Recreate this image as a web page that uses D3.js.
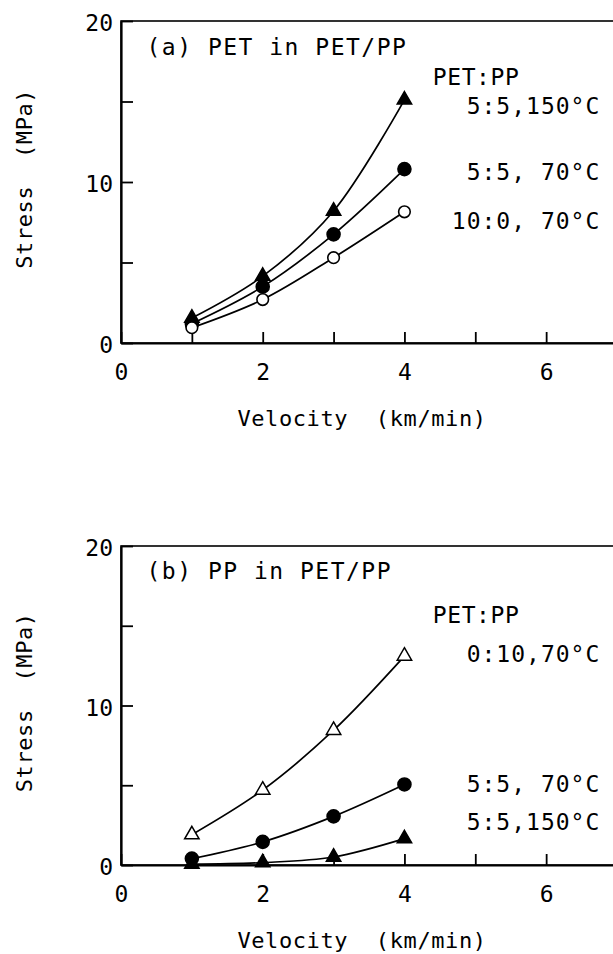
<!DOCTYPE html>
<html>
<head>
<meta charset="utf-8">
<script src="https://cdn.jsdelivr.net/npm/d3@7"></script>
<style>
  body { margin: 0; background: #fff; }
  svg text { font-family: "DejaVu Sans Mono", "Liberation Mono", monospace; fill: #000; white-space: pre; }
</style>
</head>
<body>
<svg width="613" height="954"></svg>
<script>
// data
var velocity = [1, 2, 3, 4];

// (a) PET in PET/PP
var petStress150 = [1.55, 4.15, 8.2, 15.1];
var petStress70 = [1.2, 3.5, 6.75, 10.8];
var petStressNeat = [0.95, 2.7, 5.3, 8.15];

// (b) PP in PET/PP
var ppStressNeat = [1.9, 4.7, 8.45, 13.1];
var ppStress70 = [0.4, 1.45, 3.05, 5.05];
var ppStress150 = [0.05, 0.15, 0.5, 1.65];

var xTicks = [0, 1, 2, 3, 4, 5, 6];
var xTickLabels = [0, 2, 4, 6];
var yTicks = [0, 5, 10, 15, 20];
var yTickLabels = [0, 10, 20];

var svg = d3.select('svg');

var panels = [
  {
    title: '(a) PET in PET/PP',
    top: 21, bottom: 343,
    series: [
      {name: '5:5,150°C', values: petStress150, marker: 'triangle', filled: true, labelY: 14.2},
      {name: '5:5, 70°C', values: petStress70, marker: 'circle', filled: true, labelY: 10.1},
      {name: '10:0, 70°C', values: petStressNeat, marker: 'circle', filled: false, labelY: 7.1}
    ],
    headerY: 16.0
  },
  {
    title: '(b) PP in PET/PP',
    top: 546, bottom: 865,
    series: [
      {name: '0:10,70°C', values: ppStressNeat, marker: 'triangle', filled: false, labelY: 12.7},
      {name: '5:5, 70°C', values: ppStress70, marker: 'circle', filled: true, labelY: 4.6},
      {name: '5:5,150°C', values: ppStress150, marker: 'triangle', filled: true, labelY: 2.2}
    ],
    headerY: 15.2
  }
];

panels.forEach(drawPanel);

function drawPanel(p) {
  var x = d3.scaleLinear().domain([0, 7]).range([121, 617]);
  var y = d3.scaleLinear().domain([0, 20]).range([p.bottom, p.top]);
  var g = svg.append('g');

  // frame (right side falls off the page like in the scan)
  g.append('rect')
    .attr('x', x(0)).attr('y', y(20))
    .attr('width', x(7) - x(0)).attr('height', y(0) - y(20))
    .attr('fill', 'none').attr('stroke', '#000').attr('stroke-width', 1.6);

  var xAxis = d3.axisBottom(x)
    .tickValues(xTicks)
    .tickSizeInner(-11).tickSizeOuter(0).tickPadding(21)
    .tickFormat(function(d) { return xTickLabels.indexOf(d) >= 0 ? d : ''; });
  var yAxis = d3.axisLeft(y)
    .tickValues(yTicks)
    .tickSizeInner(-12).tickSizeOuter(0).tickPadding(8)
    .tickFormat(function(d) { return yTickLabels.indexOf(d) >= 0 ? d : ''; });

  var gx = g.append('g').attr('transform', 'translate(0,' + y(0) + ')').call(xAxis);
  var gy = g.append('g').attr('transform', 'translate(' + x(0) + ',0)').call(yAxis);
  [gx, gy].forEach(function(a) {
    a.select('.domain').attr('stroke-width', 2.2);
    a.selectAll('.tick line').attr('stroke-width', 1.8);
    a.selectAll('text').attr('font-size', 23).attr('font-family', null);
  });
  gy.selectAll('text').attr('dy', '0.42em');

  // axis titles
  g.append('text')
    .attr('x', 362).attr('y', y(0) + 83)
    .attr('text-anchor', 'middle')
    .attr('font-size', 22).attr('letter-spacing', 0.6)
    .text('Velocity  (km/min)');
  g.append('text')
    .attr('transform', 'translate(32,' + y(10.2) + ') rotate(-90)')
    .attr('text-anchor', 'middle')
    .attr('font-size', 22).attr('letter-spacing', 0.6)
    .text('Stress  (MPa)');

  // panel title
  g.append('text')
    .attr('x', x(0.36)).attr('y', y(17.9))
    .attr('font-size', 23).attr('letter-spacing', 1.5)
    .text(p.title);

  // legend header
  g.append('text')
    .attr('x', x(4.4)).attr('y', y(p.headerY))
    .attr('font-size', 23).attr('letter-spacing', 0.6)
    .text('PET:PP');

  var line = d3.line()
    .x(function(d, i) { return x(velocity[i]); })
    .y(function(d) { return y(d); })
    .curve(d3.curveCatmullRom.alpha(0.5));

  var tri = d3.symbol().type(d3.symbolTriangle).size(90);

  p.series.forEach(function(s) {
    g.append('path')
      .attr('d', line(s.values))
      .attr('fill', 'none').attr('stroke', '#000').attr('stroke-width', 1.7);

    var pts = g.selectAll(null).data(s.values).enter();
    if (s.marker === 'circle') {
      pts.append('circle')
        .attr('cx', function(d, i) { return x(velocity[i]); })
        .attr('cy', function(d) { return y(d); })
        .attr('r', s.filled ? 6.5 : 5.8)
        .attr('fill', s.filled ? '#000' : '#fff')
        .attr('stroke', '#000').attr('stroke-width', 1.6);
    } else {
      pts.append('path')
        .attr('d', tri)
        .attr('transform', function(d, i) { return 'translate(' + x(velocity[i]) + ',' + y(d) + ')'; })
        .attr('fill', s.filled ? '#000' : '#fff')
        .attr('stroke', '#000').attr('stroke-width', 1.5);
    }

    g.append('text')
      .attr('x', x(6.75) + 1).attr('y', y(s.labelY))
      .attr('text-anchor', 'end')
      .attr('font-size', 23).attr('letter-spacing', 1)
      .text(s.name);
  });
}
</script>
</body>
</html>
